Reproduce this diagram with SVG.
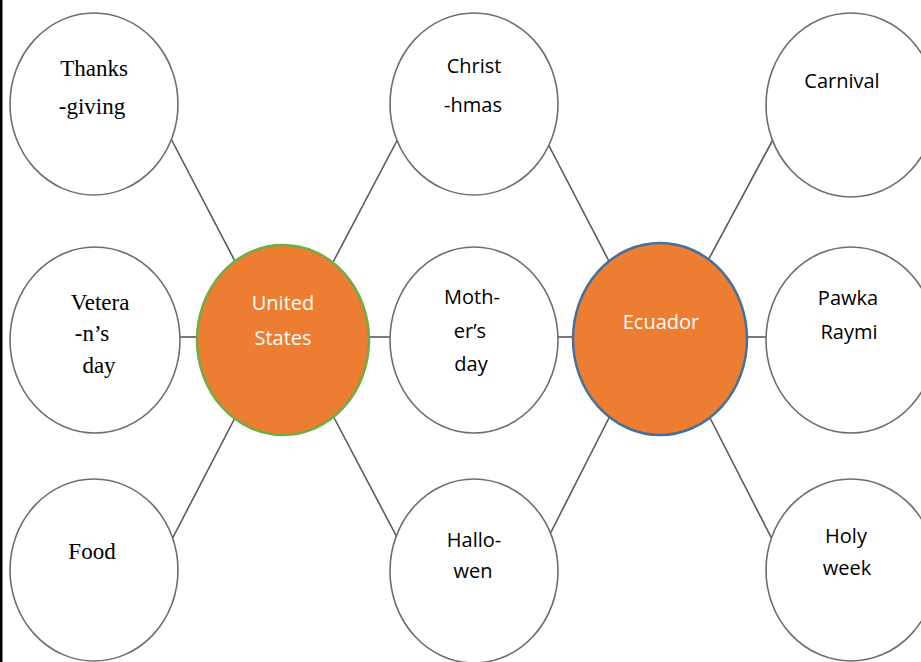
<svg xmlns="http://www.w3.org/2000/svg" width="921" height="662" viewBox="0 0 921 662">
<style>
.n{fill:#fff;stroke:#6e6e6e;stroke-width:1.6}
.c line{stroke:#5a5a5a;stroke-width:1.6}
.t{font-family:"Liberation Serif","Times New Roman",serif;font-size:23px;fill:#000;text-anchor:middle}
.s{font-family:"Open Sans","Noto Sans",sans-serif;font-size:20px;fill:#000;text-anchor:middle}
.w{font-family:"Open Sans","Noto Sans",sans-serif;font-size:20px;fill:#fff;text-anchor:middle}
.o{fill:#ED7D31;stroke-width:2.5}
</style>
<rect width="921" height="662" fill="#fff"/>
<rect x="0" y="0" width="2.5" height="662" fill="#000"/>
<g id="connectors" class="c">
<line x1="168" y1="133" x2="238" y2="267"/>
<line x1="331" y1="266" x2="401" y2="133"/>
<line x1="546" y1="140" x2="612" y2="267"/>
<line x1="705" y1="266" x2="776" y2="134"/>
<line x1="175" y1="337" x2="202" y2="337"/>
<line x1="364" y1="337" x2="395" y2="337"/>
<line x1="552" y1="337" x2="578" y2="337"/>
<line x1="742" y1="337" x2="771" y2="337"/>
<line x1="238" y1="412" x2="169" y2="545"/>
<line x1="331" y1="412" x2="400" y2="543"/>
<line x1="548" y1="538" x2="612" y2="412"/>
<line x1="707" y1="412" x2="775" y2="545"/>
</g>
<g id="thanksgiving"><ellipse class="n" cx="94" cy="104" rx="84" ry="91"/><text class="t" x="94" y="76">Thanks</text><text class="t" x="92" y="114">-giving</text></g>
<g id="veterans"><ellipse class="n" cx="95" cy="340" rx="85" ry="93"/><text class="t" x="100" y="310">Vetera</text><text class="t" x="92" y="341">-n’s</text><text class="t" x="99" y="373">day</text></g>
<g id="food"><ellipse class="n" cx="94" cy="570" rx="84" ry="91"/><text class="t" x="92" y="559">Food</text></g>
<g id="united-states"><ellipse class="o" cx="283" cy="340" rx="86" ry="95" stroke="#70AD47"/><text class="w" x="283" y="310">United</text><text class="w" x="283" y="345">States</text></g>
<g id="christmas"><ellipse class="n" cx="474" cy="104" rx="84" ry="91"/><text class="s" x="474" y="73">Christ</text><text class="s" x="473" y="112">-hmas</text></g>
<g id="mothers-day"><ellipse class="n" cx="474" cy="340" rx="84" ry="93"/><text class="s" x="472" y="304">Moth-</text><text class="s" x="470" y="338">er’s</text><text class="s" x="471" y="371">day</text></g>
<g id="halloween"><ellipse class="n" cx="474" cy="571" rx="84" ry="92"/><text class="s" x="474" y="547">Hallo-</text><text class="s" x="473" y="578">wen</text></g>
<g id="ecuador"><ellipse class="o" cx="660" cy="339" rx="87" ry="96" stroke="#41719C"/><text class="w" x="661" y="329">Ecuador</text></g>
<g id="carnival"><ellipse class="n" cx="851" cy="105" rx="85" ry="92"/><text class="s" x="842" y="88">Carnival</text></g>
<g id="pawka-raymi"><ellipse class="n" cx="851" cy="340" rx="85" ry="93"/><text class="s" x="848" y="305">Pawka</text><text class="s" x="849" y="339">Raymi</text></g>
<g id="holy-week"><ellipse class="n" cx="851" cy="570" rx="85" ry="91"/><text class="s" x="846" y="543">Holy</text><text class="s" x="847" y="575">week</text></g>
</svg>
